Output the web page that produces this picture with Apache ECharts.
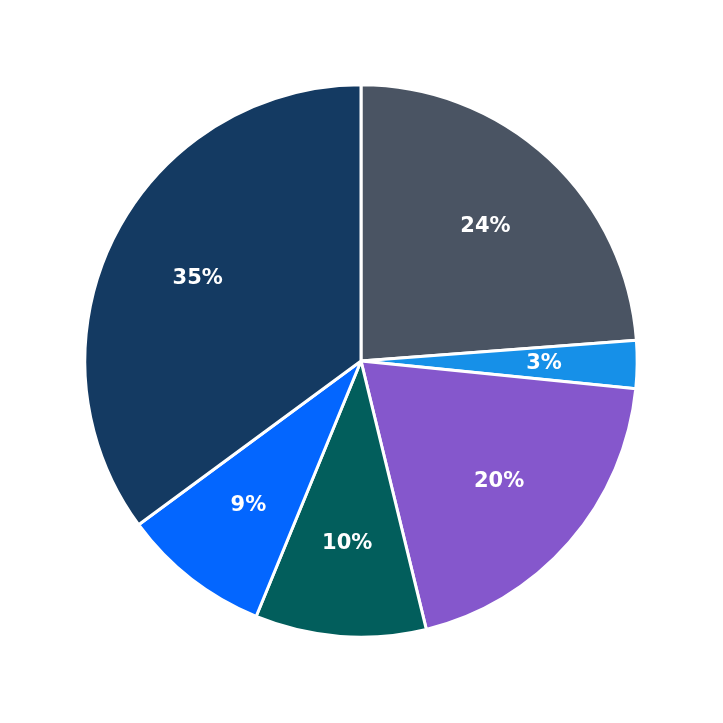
<!DOCTYPE html>
<html><head><meta charset="utf-8">
<script src="https://cdn.jsdelivr.net/npm/echarts@6/dist/echarts.min.js"></script>
<style>html,body{margin:0;padding:0;background:#fff}#c{width:723px;height:723px}</style>
</head><body><div id="c"></div>
<script>
const categories = ['A','B','C','D','E','F'];
const values = [23.8, 2.8, 19.6, 10.0, 8.7, 35.1];
const colors = ['#4a5463','#1690e8','#8557cc','#025e5c','#0366ff','#143a62'];
const data = categories.map((n,i)=>({name:n,value:values[i],itemStyle:{color:colors[i]}}));
const chart = echarts.init(document.getElementById('c'));
chart.setOption({
  animation:false,
  series:[
    {type:'pie',center:[361,361],radius:[0,'76.4%'],startAngle:90,clockwise:true,
     data:data,itemStyle:{borderColor:'#fff',borderWidth:3},label:{show:false},labelLine:{show:false},silent:true},
    {type:'pie',center:[361,361],radius:['23.2%','76.4%'],startAngle:90,clockwise:true,
     data:categories.map((n,i)=>({name:n,value:values[i]})),
     itemStyle:{color:'rgba(0,0,0,0)'},silent:true,
     label:{show:true,position:'inner',color:'#fff',fontSize:21,fontWeight:'bold',fontFamily:'DejaVu Sans',
       formatter:p=>Math.round(p.percent)+'%'},labelLine:{show:false}}
  ]
});
</script></body></html>
